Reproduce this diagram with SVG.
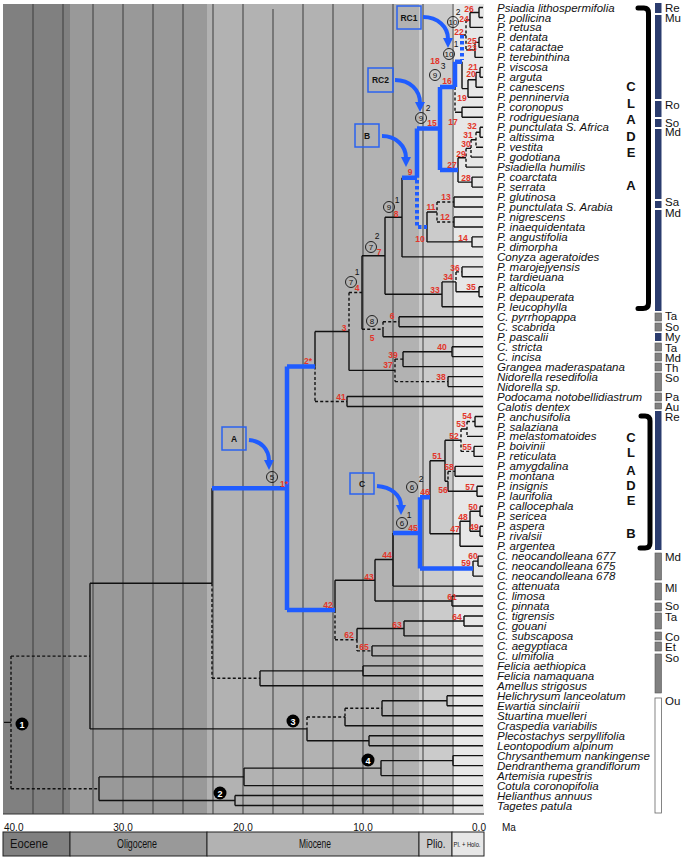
<svg xmlns="http://www.w3.org/2000/svg" width="686" height="859" viewBox="0 0 686 859">
<defs>
<style>
text{font-family:"Liberation Sans",Arial,sans-serif;fill:#111}
.grid{stroke:#3d3d3d;stroke-width:1}
.k{fill:none;stroke:#111;stroke-width:1.4}
.kd{fill:none;stroke:#111;stroke-width:1.4;stroke-dasharray:3 2.2}
.b{fill:none;stroke:#1f5cff;stroke-width:4.5}
.bd{fill:none;stroke:#1f5cff;stroke-width:4;stroke-dasharray:3.5 2.5}
.tip{font-style:italic;font-size:11.5px}
.rn{font-weight:bold;font-size:8.5px;fill:#e2352a;text-anchor:middle}
.cn circle{fill:none;stroke:#111;stroke-width:0.9}
.cn text{font-size:8px;text-anchor:middle}
.sup{font-size:8.5px;text-anchor:middle}
.disc circle{fill:#000}
.disc text{fill:#fff;font-weight:bold;font-size:9px;text-anchor:middle}
.box{fill:none;stroke:#2b63f0;stroke-width:1.5}
.boxt{font-weight:bold;font-size:8.5px;text-anchor:middle}
.arr{fill:none;stroke:#1f5cff;stroke-width:4;marker-end:url(#ah)}
.rgn{fill:#2b3c6e}
.rgg{fill:#808080;stroke:#555;stroke-width:0.6}
.rgw{fill:#fff;stroke:#666;stroke-width:0.8}
.rl{font-size:11.5px}
.clade{font-weight:bold;font-size:13px;text-anchor:middle}
.brk{fill:none;stroke:#000;stroke-width:5;stroke-linecap:round}
.ax{font-size:10px}
.ep{font-size:13px;text-anchor:middle}
.cell{stroke:#222;stroke-width:1}
</style>
<marker id="ah" viewBox="0 0 10 10" refX="1" refY="5" markerWidth="10" markerHeight="10" markerUnits="userSpaceOnUse" orient="auto"><path d="M0,0 L10,5 L0,10 z" fill="#1f5cff"/></marker>
</defs>
<rect width="686" height="859" fill="#fff"/>
<g id="background">
<rect x="3" y="4" width="67" height="810" fill="#808080"/>
<rect x="70" y="4" width="137" height="810" fill="#999999"/>
<rect x="207" y="4" width="212" height="810" fill="#b2b2b2"/>
<rect x="419" y="4" width="33" height="810" fill="#cbcbcb"/>
<rect x="452" y="4" width="32" height="810" fill="#e7e7e7"/>
<path class="grid" d="M33,4V814M63,4V814M93,4V814M123,4V814M153,4V814M183,4V814M213,4V814M243,4V814M273,9V814M303,4V814M333,4V814M363,4V814M393,4V814M423,4V814M453,4V814"/>
<path d="M3,814H484" stroke="#333" stroke-width="1"/>
</g>
<g id="connectors">
<path class="k" d="M479,7.5V17.5M479,7.5H483M479,17.5H483
M470,12.5V27.4M470,12.5H479M470,27.4H483
M479,37.4V47.4M479,37.4H483M479,47.4H483
M475,42.4V57.4M475,42.4H479M475,57.4H483
M466,20H470M466,49.9H475
M462,61.8V88.6M462,35H466M462,88.6H468
M480,67.4V77.3M480,67.4H483M480,77.3H483
M476,72.4V87.3M476,72.4H480M476,87.3H483
M468,79.8V97.3M468,79.8H476M468,97.3H483
M462,107.3V117.2M462,107.3H483M462,117.2H483
M455,112.3H462
M480,127.2V137.2M480,127.2H483M480,137.2H483
M476,132.2H480M476,147.2H483
M471,139.7H476M471,157.1H483
M466,148.4H471M466,167.1H483
M472,177.1V187.1M472,177.1H483M472,187.1H483
M458,157.8V182.1M458,157.8H466M458,182.1H472
M454,197V207M454,197H483M454,207H483
M454,217V227M454,217H483M454,227H483
M472,236.9V246.9M472,236.9H483M472,246.9H483
M427,212V241.9M427,212H437M427,241.9H472
M402,177.8V256.9M402,256.9H483
M462,266.9V276.8M462,266.9H483M462,276.8H483
M479,286.8V296.8M479,286.8H483M479,296.8H483
M456,281.9V291.8M456,291.8H479
M442,281.9V306.8M442,281.9H456M442,306.8H483
M385,217.3V294.3M385,217.3H402M385,294.3H442
M399,316.7V326.7M399,316.7H483M399,326.7H483
M383,329.2V336.7M383,336.7H483
M362,255.8V329.2M362,255.8H385
M452,346.7V356.6M452,346.7H483M452,356.6H483
M403,351.7V366.6M403,351.7H452M403,366.6H483
M448,376.6V386.6M448,376.6H483M448,386.6H483
M349,331.5V370.4M349,370.4H395
M347,396.5V406.5M347,396.5H483M347,406.5H483
M315,331.5V366.5M315,331.5H349
M475,416.5V426.5M475,416.5H483M475,426.5H483
M467,436.4H483
M474,446.4V456.4M474,446.4H483M474,456.4H483
M461,429H467
M455,466.4V476.3M455,466.4H483M455,476.3H483
M477,486.3V496.3M477,486.3H483M477,496.3H483
M448,481.3V491.3M448,491.3H477
M445,440.2V481.3M445,440.2H461M445,481.3H448
M480,506.3V516.2M480,506.3H483M480,516.2H483
M480,526.2V536.2M480,526.2H483M480,536.2H483
M470,511.3V531.2M470,511.3H480M470,531.2H480
M460,521.2V546.2M460,521.2H470M460,546.2H483
M430,460.8V533.7M430,460.8H445M430,533.7H460
M478,556.1V566.1M478,556.1H483M478,566.1H483
M473,561.1V576.1M473,561.1H478M473,576.1H483
M393,532.9V586.1M393,586.1H483
M452,596V606M452,596H483M452,606H483
M375,559.5V601M375,559.5H393M375,601H452
M464,616V626M464,616H483M464,626H483
M404,621V635.9M404,621H464M404,635.9H483
M372,645.9V655.9M372,645.9H483M372,655.9H483
M357,628.5V639.7M357,628.5H404
M335,580.3V610M335,580.3H375
M363,665.9V675.8M363,665.9H483M363,675.8H483
M260,670.9V685.8M260,670.9H363M260,685.8H483
M212,488.3V583.3
M447,695.8V705.8M447,695.8H483M447,705.8H483
M382,700.8V715.7M382,700.8H447M382,715.7H483
M345,717V725.7M345,725.7H483
M369,735.7V745.7M369,735.7H483M369,745.7H483
M307,728.9V740.7M307,740.7H369
M90,583.3V728.9M90,583.3H212M90,728.9H307
M453,755.6V765.6M453,755.6H483M453,765.6H483
M381,760.6V775.6M381,760.6H453M381,775.6H483
M244,768.1V785.6M244,768.1H381M244,785.6H483
M235,795.5V805.5M235,795.5H483M235,805.5H483
M99,776.9V800.5M99,776.9H244M99,800.5H235
M4,722.4H11"/>
<path class="kd" d="M466,20V49.9
M455,87V112.3
M476,132.2V147.2M471,139.7V157.1M466,148.4V167.1
M437,202V222M437,202H454M437,222H454
M456,271.9V281.9M456,271.9H462
M383,321.7V329.2M383,321.7H399M362,329.2H383
M395,359.1V381.6M395,359.1H403M395,381.6H448
M349,292.5V331.5M349,292.5H362
M315,366.5V401.5M315,401.5H347
M467,421.5V436.4M467,421.5H475
M461,429V451.4M461,451.4H474
M448,471.4V481.3M448,471.4H455
M357,639.7V650.9M357,650.9H372
M335,610V639.7M335,639.7H357
M212,583.3V678.3M212,678.3H260
M345,708.3V717M345,708.3H382
M307,717V728.9M307,717H345
M11,656.1V788.7M11,656.1H90M11,788.7H99"/>
<path class="b" d="M212,488.3H287M287,366.5V610M287,366.5H315M287,610H335
M393,532.9H420M420,497.2V568.6M420,497.2H430M420,568.6H473
M402,177.8H417M417,128.5V177.8M417,128.5H440M440,87V170M440,87H455M440,170H458M455,61.8V87M455,61.8H462"/>
<path class="bd" d="M417,180V227H427M462,35V60"/>
</g>
<g id="annotations">
<g id="box-rc1"><rect class="box" x="397" y="6" width="24" height="23"/><text class="boxt" x="409" y="20.5">RC1</text></g>
<g id="box-rc2"><rect class="box" x="368" y="68" width="25" height="24"/><text class="boxt" x="380.5" y="83">RC2</text></g>
<g id="box-b"><rect class="box" x="355" y="124" width="24" height="23"/><text class="boxt" x="367" y="138.5">B</text></g>
<g id="box-a"><rect class="box" x="222" y="427" width="24" height="23"/><text class="boxt" x="234" y="441.5">A</text></g>
<g id="box-c"><rect class="box" x="350" y="473" width="24" height="21"/><text class="boxt" x="362" y="486.5">C</text></g>
<path class="arr" d="M423,17C438,17 448,27 448,39"/>
<path class="arr" d="M395,80C410,80 420,90 420,103"/>
<path class="arr" d="M382,136C396,136 406,146 406,158"/>
<path class="arr" d="M249,440C261,441 269,449 269,461"/>
<path class="arr" d="M377,486C391,487 401,495 401,506"/>
<g class="cn">
<circle cx="453" cy="22" r="5.5"/><text x="453" y="25">10</text>
<circle cx="449" cy="54" r="5.5"/><text x="449" y="57">10</text>
<circle cx="435" cy="75" r="5.5"/><text x="435" y="78">9</text>
<circle cx="421" cy="118" r="5.5"/><text x="421" y="121">9</text>
<circle cx="389" cy="207" r="5.5"/><text x="389" y="210">9</text>
<circle cx="371" cy="247" r="5.5"/><text x="371" y="250">7</text>
<circle cx="351" cy="282" r="5.5"/><text x="351" y="285">7</text>
<circle cx="372" cy="321" r="5.5"/><text x="372" y="324">8</text>
<circle cx="272" cy="477" r="5.5"/><text x="272" y="480">5</text>
<circle cx="412" cy="487" r="5.5"/><text x="412" y="490">6</text>
<circle cx="402" cy="523" r="5.5"/><text x="402" y="526">6</text>
</g>
<g class="sup">
<text x="458" y="15">2</text><text x="456" y="47">1</text><text x="443" y="69">3</text><text x="428" y="111">2</text><text x="397" y="203">1</text><text x="377" y="239">2</text><text x="357" y="275">1</text><text x="421" y="482">2</text><text x="409" y="518">1</text>
</g>
<g class="disc">
<circle cx="22" cy="724" r="6.5"/><text x="22" y="727.5">1</text>
<circle cx="220" cy="793" r="6.5"/><text x="220" y="796.5">2</text>
<circle cx="293" cy="721" r="6.5"/><text x="293" y="724.5">3</text>
<circle cx="368" cy="760" r="6.5"/><text x="368" y="763.5">4</text>
</g>
<g id="node-numbers">
<text class="rn" x="469" y="12">26</text><text class="rn" x="464" y="22">24</text><text class="rn" x="459" y="35">22</text><text class="rn" x="472" y="44">25</text><text class="rn" x="472" y="51">23</text>
<text class="rn" x="435" y="64">18</text><text class="rn" x="473" y="70">21</text><text class="rn" x="471" y="77">20</text><text class="rn" x="447" y="84">16</text><text class="rn" x="462" y="101">19</text>
<text class="rn" x="453" y="125">17</text><text class="rn" x="432" y="126">15</text><text class="rn" x="472" y="129">32</text><text class="rn" x="468" y="138">31</text><text class="rn" x="466" y="147">30</text>
<text class="rn" x="461" y="157">29</text><text class="rn" x="452" y="168">27</text><text class="rn" x="410" y="175">9</text><text class="rn" x="466" y="181">28</text><text class="rn" x="446" y="200">13</text>
<text class="rn" x="431" y="210">11</text><text class="rn" x="396" y="217">8</text><text class="rn" x="445" y="220">12</text><text class="rn" x="463" y="241">14</text><text class="rn" x="420" y="242">10</text>
<text class="rn" x="379" y="255">7</text><text class="rn" x="455" y="271">36</text><text class="rn" x="448" y="280">34</text><text class="rn" x="435" y="293">33</text><text class="rn" x="471" y="290">35</text>
<text class="rn" x="357" y="291">4</text><text class="rn" x="392" y="319">6</text><text class="rn" x="344" y="331">3</text><text class="rn" x="372" y="341">5</text><text class="rn" x="442" y="350">40</text>
<text class="rn" x="393" y="358">39</text><text class="rn" x="308" y="364">2*</text><text class="rn" x="388" y="368">37</text><text class="rn" x="441" y="380">38</text><text class="rn" x="341" y="400">41</text>
<text class="rn" x="467" y="419">54</text><text class="rn" x="461" y="427">53</text><text class="rn" x="454" y="439">52</text><text class="rn" x="467" y="450">55</text><text class="rn" x="437" y="459">51</text>
<text class="rn" x="449" y="470">58</text><text class="rn" x="284" y="487">1*</text><text class="rn" x="443" y="493">56</text><text class="rn" x="470" y="490">57</text><text class="rn" x="425" y="495">46</text>
<text class="rn" x="473" y="510">50</text><text class="rn" x="463" y="520">48</text><text class="rn" x="413" y="531">45</text><text class="rn" x="455" y="532">47</text><text class="rn" x="474" y="530">49</text>
<text class="rn" x="387" y="558">44</text><text class="rn" x="473" y="559">60</text><text class="rn" x="466" y="566">59</text><text class="rn" x="369" y="580">43</text><text class="rn" x="452" y="600">61</text>
<text class="rn" x="328" y="608">42</text><text class="rn" x="457" y="620">64</text><text class="rn" x="397" y="628">63</text><text class="rn" x="349" y="638">62</text><text class="rn" x="364" y="650">65</text>
</g>
</g>
<g id="taxa" class="tip">
<g id="tip-1"><text x="497" y="11.5">Psiadia lithospermifolia</text></g>
<g id="tip-2"><text x="497" y="21.5">P. pollicina</text></g>
<g id="tip-3"><text x="497" y="31.4">P. retusa</text></g>
<g id="tip-4"><text x="497" y="41.4">P. dentata</text></g>
<g id="tip-5"><text x="497" y="51.4">P. cataractae</text></g>
<g id="tip-6"><text x="497" y="61.4">P. terebinthina</text></g>
<g id="tip-7"><text x="497" y="71.4">P. viscosa</text></g>
<g id="tip-8"><text x="497" y="81.3">P. arguta</text></g>
<g id="tip-9"><text x="497" y="91.3">P. canescens</text></g>
<g id="tip-10"><text x="497" y="101.3">P. penninervia</text></g>
<g id="tip-11"><text x="497" y="111.3">P. coronopus</text></g>
<g id="tip-12"><text x="497" y="121.2">P. rodriguesiana</text></g>
<g id="tip-13"><text x="497" y="131.2">P. punctulata S. Africa</text></g>
<g id="tip-14"><text x="497" y="141.2">P. altissima</text></g>
<g id="tip-15"><text x="497" y="151.2">P. vestita</text></g>
<g id="tip-16"><text x="497" y="161.1">P. godotiana</text></g>
<g id="tip-17"><text x="497" y="171.1">Psiadiella humilis</text></g>
<g id="tip-18"><text x="497" y="181.1">P. coarctata</text></g>
<g id="tip-19"><text x="497" y="191.1">P. serrata</text></g>
<g id="tip-20"><text x="497" y="201">P. glutinosa</text></g>
<g id="tip-21"><text x="497" y="211">P. punctulata S. Arabia</text></g>
<g id="tip-22"><text x="497" y="221">P. nigrescens</text></g>
<g id="tip-23"><text x="497" y="231">P. inaequidentata</text></g>
<g id="tip-24"><text x="497" y="240.9">P. angustifolia</text></g>
<g id="tip-25"><text x="497" y="250.9">P. dimorpha</text></g>
<g id="tip-26"><text x="497" y="260.9">Conyza ageratoides</text></g>
<g id="tip-27"><text x="497" y="270.9">P. marojejyensis</text></g>
<g id="tip-28"><text x="497" y="280.8">P. tardieuana</text></g>
<g id="tip-29"><text x="497" y="290.8">P. alticola</text></g>
<g id="tip-30"><text x="497" y="300.8">P. depauperata</text></g>
<g id="tip-31"><text x="497" y="310.8">P. leucophylla</text></g>
<g id="tip-32"><text x="497" y="320.7">C. pyrrhopappa</text></g>
<g id="tip-33"><text x="497" y="330.7">C. scabrida</text></g>
<g id="tip-34"><text x="497" y="340.7">P. pascalii</text></g>
<g id="tip-35"><text x="497" y="350.7">C. stricta</text></g>
<g id="tip-36"><text x="497" y="360.6">C. incisa</text></g>
<g id="tip-37"><text x="497" y="370.6">Grangea maderaspatana</text></g>
<g id="tip-38"><text x="497" y="380.6">Nidorella resedifolia</text></g>
<g id="tip-39"><text x="497" y="390.6">Nidorella sp.</text></g>
<g id="tip-40"><text x="497" y="400.5">Podocama notobellidiastrum</text></g>
<g id="tip-41"><text x="497" y="410.5">Calotis dentex</text></g>
<g id="tip-42"><text x="497" y="420.5">P. anchusifolia</text></g>
<g id="tip-43"><text x="497" y="430.5">P. salaziana</text></g>
<g id="tip-44"><text x="497" y="440.4">P. melastomatoides</text></g>
<g id="tip-45"><text x="497" y="450.4">P. boivinii</text></g>
<g id="tip-46"><text x="497" y="460.4">P. reticulata</text></g>
<g id="tip-47"><text x="497" y="470.4">P. amygdalina</text></g>
<g id="tip-48"><text x="497" y="480.3">P. montana</text></g>
<g id="tip-49"><text x="497" y="490.3">P. insignis</text></g>
<g id="tip-50"><text x="497" y="500.3">P. laurifolia</text></g>
<g id="tip-51"><text x="497" y="510.3">P. callocephala</text></g>
<g id="tip-52"><text x="497" y="520.2">P. sericea</text></g>
<g id="tip-53"><text x="497" y="530.2">P. aspera</text></g>
<g id="tip-54"><text x="497" y="540.2">P. rivalsii</text></g>
<g id="tip-55"><text x="497" y="550.2">P. argentea</text></g>
<g id="tip-56"><text x="497" y="560.1">C. neocandolleana 677</text></g>
<g id="tip-57"><text x="497" y="570.1">C. neocandolleana 675</text></g>
<g id="tip-58"><text x="497" y="580.1">C. neocandolleana 678</text></g>
<g id="tip-59"><text x="497" y="590.1">C. attenuata</text></g>
<g id="tip-60"><text x="497" y="600">C. limosa</text></g>
<g id="tip-61"><text x="497" y="610">C. pinnata</text></g>
<g id="tip-62"><text x="497" y="620">C. tigrensis</text></g>
<g id="tip-63"><text x="497" y="630">C. gouani</text></g>
<g id="tip-64"><text x="497" y="639.9">C. subscaposa</text></g>
<g id="tip-65"><text x="497" y="649.9">C. aegyptiaca</text></g>
<g id="tip-66"><text x="497" y="659.9">C. ulmifolia</text></g>
<g id="tip-67"><text x="497" y="669.9">Felicia aethiopica</text></g>
<g id="tip-68"><text x="497" y="679.8">Felicia namaquana</text></g>
<g id="tip-69"><text x="497" y="689.8">Amellus strigosus</text></g>
<g id="tip-70"><text x="497" y="699.8">Helichrysum lanceolatum</text></g>
<g id="tip-71"><text x="497" y="709.8">Ewartia sinclairii</text></g>
<g id="tip-72"><text x="497" y="719.7">Stuartina muelleri</text></g>
<g id="tip-73"><text x="497" y="729.7">Craspedia variabilis</text></g>
<g id="tip-74"><text x="497" y="739.7">Plecostachys serpyllifolia</text></g>
<g id="tip-75"><text x="497" y="749.7">Leontopodium alpinum</text></g>
<g id="tip-76"><text x="497" y="759.6">Chrysanthemum nankingense</text></g>
<g id="tip-77"><text x="497" y="769.6">Dendranthema grandiflorum</text></g>
<g id="tip-78"><text x="497" y="779.6">Artemisia rupestris</text></g>
<g id="tip-79"><text x="497" y="789.6">Cotula coronopifolia</text></g>
<g id="tip-80"><text x="497" y="799.5">Helianthus annuus</text></g>
<g id="tip-81"><text x="497" y="809.5">Tagetes patula</text></g>
</g>
<g id="clades">
<path class="brk" d="M638,8H644Q648.5,8 648.5,13V303Q648.5,308.5 643,308.5H638"/>
<path class="brk" d="M641,416H645Q650,416 650,421V543Q650,548 645,548H640"/>
<text class="clade" x="631" y="91">C</text><text class="clade" x="631" y="108">L</text><text class="clade" x="631" y="124">A</text><text class="clade" x="631" y="141">D</text><text class="clade" x="631" y="157">E</text><text class="clade" x="631" y="190">A</text>
<text class="clade" x="631" y="442">C</text><text class="clade" x="631" y="457">L</text><text class="clade" x="631" y="475">A</text><text class="clade" x="631" y="490">D</text><text class="clade" x="631" y="505">E</text><text class="clade" x="631" y="538">B</text>
</g>
<g id="regions">
<rect class="rgn" x="655" y="3" width="6.5" height="10"/>
<rect class="rgn" x="655" y="15" width="6.5" height="84"/>
<rect class="rgn" x="655" y="101" width="6.5" height="16"/>
<rect class="rgn" x="655" y="119" width="6.5" height="8"/>
<rect class="rgn" x="655" y="129" width="6.5" height="70"/>
<rect class="rgn" x="655" y="201" width="6.5" height="7"/>
<rect class="rgn" x="655" y="210" width="6.5" height="101"/>
<rect class="rgg" x="655" y="313" width="6.5" height="8"/>
<rect class="rgg" x="655" y="323" width="6.5" height="8"/>
<rect class="rgn" x="655" y="333" width="6.5" height="8"/>
<rect class="rgg" x="655" y="343" width="6.5" height="8"/>
<rect class="rgg" x="655" y="353" width="6.5" height="8"/>
<rect class="rgg" x="655" y="363" width="6.5" height="8"/>
<rect class="rgg" x="655" y="373" width="6.5" height="18"/>
<rect class="rgg" x="655" y="393" width="6.5" height="8"/>
<rect class="rgg" x="655" y="403" width="6.5" height="6"/>
<rect class="rgn" x="655" y="411" width="6.5" height="139"/>
<rect class="rgg" x="655" y="553" width="6.5" height="27"/>
<rect class="rgg" x="655" y="583" width="6.5" height="17"/>
<rect class="rgg" x="655" y="603" width="6.5" height="8"/>
<rect class="rgg" x="655" y="613" width="6.5" height="16"/>
<rect class="rgg" x="655" y="632" width="6.5" height="8"/>
<rect class="rgg" x="655" y="642" width="6.5" height="9"/>
<rect class="rgg" x="655" y="654" width="6.5" height="39"/>
<rect class="rgw" x="655" y="698" width="6.5" height="115"/>
<g class="rl">
<text x="665" y="11.5">Re</text><text x="665" y="22">Mu</text><text x="665" y="109">Ro</text><text x="665" y="126.5">So</text><text x="665" y="135.5">Md</text>
<text x="665" y="206">Sa</text><text x="665" y="217">Md</text><text x="665" y="320">Ta</text><text x="665" y="331">So</text><text x="665" y="341">My</text>
<text x="665" y="352">Ta</text><text x="665" y="362">Md</text><text x="665" y="372">Th</text><text x="665" y="382">So</text><text x="665" y="401">Pa</text>
<text x="665" y="410.5">Au</text><text x="665" y="420.5">Re</text><text x="665" y="561">Md</text><text x="665" y="592">Ml</text><text x="665" y="610">So</text>
<text x="665" y="621">Ta</text><text x="665" y="641">Co</text><text x="665" y="651">Et</text><text x="665" y="662">So</text><text x="665" y="705">Ou</text>
</g>
</g>
<g id="axis">
<text class="ax" x="4" y="831">40.0</text>
<text class="ax" x="123" y="831" text-anchor="middle">30.0</text>
<text class="ax" x="243" y="831" text-anchor="middle">20.0</text>
<text class="ax" x="363" y="831" text-anchor="middle">10.0</text>
<text class="ax" x="479" y="831" text-anchor="middle">0.0</text>
<text class="ax" x="502" y="831">Ma</text>
<rect class="cell" x="3" y="832" width="67" height="24" fill="#808080"/>
<rect class="cell" x="70" y="832" width="137" height="24" fill="#999999"/>
<rect class="cell" x="207" y="832" width="212" height="24" fill="#b2b2b2"/>
<rect class="cell" x="419" y="832" width="33" height="24" fill="#cbcbcb"/>
<rect class="cell" x="452" y="832" width="32" height="24" fill="#e7e7e7"/>
<text class="ep" x="29" y="848" textLength="38" lengthAdjust="spacingAndGlyphs">Eocene</text>
<text class="ep" x="137" y="848" textLength="40" lengthAdjust="spacingAndGlyphs">Oligocene</text>
<text class="ep" x="315" y="848" textLength="32" lengthAdjust="spacingAndGlyphs">Miocene</text>
<text class="ep" x="436" y="848" textLength="19" lengthAdjust="spacingAndGlyphs">Plio.</text>
<text x="467" y="847" font-size="7" text-anchor="middle" textLength="27" lengthAdjust="spacingAndGlyphs">Pl. + Holo.</text>
</g>
</svg>
